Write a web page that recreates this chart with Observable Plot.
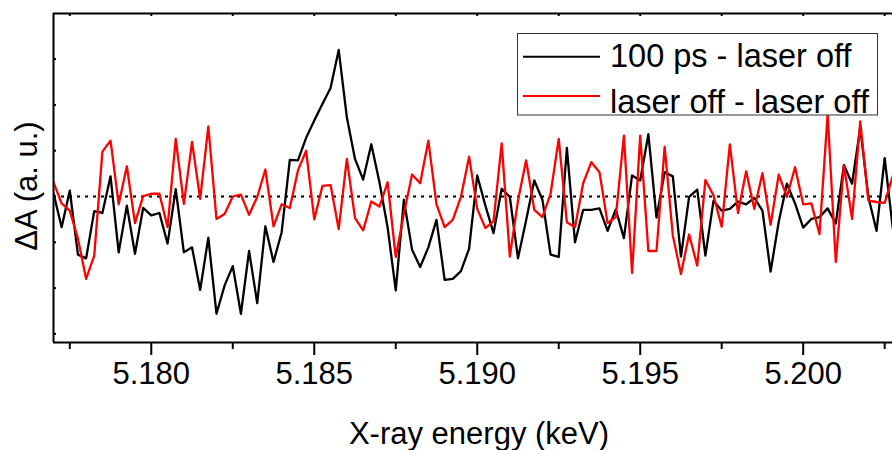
<!DOCTYPE html>
<html><head><meta charset="utf-8">
<script src="https://cdn.jsdelivr.net/npm/d3@7"></script>
<script src="https://cdn.jsdelivr.net/npm/@observablehq/plot@0.6"></script>
<style>
html,body{margin:0;padding:0;background:#fff;overflow:hidden;}
#wrap{position:relative;width:892px;height:450px;font-family:"Liberation Sans",Arial,sans-serif;}
#legend{position:absolute;left:0;top:0;pointer-events:none;}
</style></head>
<body><div id="wrap"></div>
<script>
// X-ray energy grid (keV)
const energy = [
5.17700,5.17725,5.17750,5.17775, 5.17800,5.17825,5.17850,5.17875,
5.17900,5.17925,5.17950,5.17975, 5.18000,5.18025,5.18050,5.18075,
5.18100,5.18125,5.18150,5.18175, 5.18200,5.18225,5.18250,5.18275,
5.18300,5.18325,5.18350,5.18375, 5.18400,5.18425,5.18450,5.18475,
5.18500,5.18525,5.18550,5.18575, 5.18600,5.18625,5.18650,5.18675,
5.18700,5.18725,5.18750,5.18775, 5.18800,5.18825,5.18850,5.18875,
5.18900,5.18925,5.18950,5.18975, 5.19000,5.19025,5.19050,5.19075,
5.19100,5.19125,5.19150,5.19175, 5.19200,5.19225,5.19250,5.19275,
5.19300,5.19325,5.19350,5.19375, 5.19400,5.19425,5.19450,5.19475,
5.19500,5.19525,5.19550,5.19575, 5.19600,5.19625,5.19650,5.19675,
5.19700,5.19725,5.19750,5.19775, 5.19800,5.19825,5.19850,5.19875,
5.19900,5.19925,5.19950,5.19975, 5.20000,5.20025,5.20050,5.20075,
5.20100,5.20125,5.20150,5.20175, 5.20200,5.20225,5.20250,5.20275
];
// 100 ps - laser off (a. u.)
const pumpMinusOff = [
0.07,-0.67,0.13,-1.27,-1.35,-0.32,-0.36,0.44,-1.22,-0.20,
-1.25,-0.25,-0.41,-0.36,-1.03,0.16,-1.22,-1.11,-2.04,-0.90,
-2.56,-1.94,-1.52,-2.56,-1.19,-2.33,-0.65,-1.43,-0.78,0.80,
0.79,1.28,1.66,2.02,2.37,3.20,1.73,0.82,0.37,1.14,
0.31,-0.67,-2.05,-0.07,-1.16,-1.54,-1.11,-0.51,-1.82,-1.80,
-1.63,-1.14,0.46,-0.20,-0.80,0.17,-0.01,-1.35,-0.52,0.35,
-0.07,-1.27,-1.32,1.06,-1.00,-0.29,-0.29,-0.26,-0.75,-0.28,
-0.91,0.46,0.35,1.36,-0.46,0.53,0.44,-1.31,-0.01,0.15,
-1.29,-0.09,-0.31,-0.27,-0.11,-0.17,-0.03,-0.31,-1.64,-0.55,
0.28,-0.15,-0.68,-0.49,-0.45,-0.26,-0.59,0.69,0.28,1.50,
-0.01,-0.75,0.84,-0.70
];
// laser off - laser off (a. u.)
const offMinusOff = [
0.31,-0.15,-0.31,-0.92,-1.80,-1.29,0.98,1.22,-0.17,0.66,
-0.58,0.01,0.06,0.06,-0.67,1.26,-0.16,1.19,-0.05,1.53,
-0.49,-0.38,0.00,0.04,-0.40,-0.01,0.59,-0.65,-0.17,-0.25,
0.57,1.00,-0.50,0.23,0.25,-0.71,0.82,-0.47,-0.74,-0.11,
-0.22,0.31,-1.32,-0.38,0.48,0.29,1.22,-0.17,-0.67,-0.51,
-0.01,0.87,-0.27,-0.69,-0.54,1.16,-1.31,-0.09,0.79,-0.29,
-0.45,0.06,1.26,-0.56,-0.67,0.29,0.75,0.53,-0.58,-0.45,
1.33,-1.67,1.33,-1.19,-1.19,1.09,-0.85,-1.69,-0.83,-1.51,
0.36,0.02,-0.66,1.14,-0.36,0.55,-0.27,0.51,-0.62,0.48,
-0.01,0.64,-0.17,-0.15,-0.82,1.80,-1.43,0.68,-0.49,1.64,
-0.09,-0.12,-0.14,0.45
];
const seriesNames = ["100 ps - laser off", "laser off - laser off"];
const seriesColors = ["#000000", "#ff0000"];
const majorTicks = [5.180, 5.185, 5.190, 5.195, 5.200];
const minorTicks = [5.1775, 5.1825, 5.1875, 5.1925, 5.1975, 5.2025];
const yTicks = [-3, -2, -1, 0, 1, 2, 3];
const xLabel = "X-ray energy (keV)";
const yLabel = "ΔA (a. u.)";
const xDomain = [5.177, 5.20274];
const yDomain = [-3.188, 3.996];

const seriesA = energy.map((e, i) => ({e, v: pumpMinusOff[i]}));
const seriesB = energy.map((e, i) => ({e, v: offMinusOff[i]}));
const allTicks = majorTicks.concat(minorTicks);

const chart = Plot.plot({
  width: 892,
  height: 450,
  marginLeft: 53,
  marginRight: 0,
  marginTop: 13,
  marginBottom: 108,
  style: {fontSize: "31px", fontFamily: "'Liberation Sans', Arial, sans-serif", color: "#000", background: "#fff"},
  x: {domain: xDomain, ticks: majorTicks, tickFormat: d3.format(".3f"), tickSize: 0, tickPadding: 19, label: null},
  y: {domain: yDomain, axis: null},
  marks: [
    Plot.ruleY([0], {stroke: "#000", strokeWidth: 2, strokeDasharray: "3,5"}),
    Plot.line(seriesA, {x: "e", y: "v", stroke: seriesColors[0], strokeWidth: 2.3, clip: true}),
    Plot.line(seriesB, {x: "e", y: "v", stroke: seriesColors[1], strokeWidth: 2.3, clip: true}),
    // frame (left, top, bottom)
    Plot.ruleX([xDomain[0]], {stroke: "#000", strokeWidth: 2}),
    Plot.ruleY([yDomain[0], yDomain[1]], {stroke: "#000", strokeWidth: 2}),
    // bottom ticks (outward)
    Plot.ruleX(majorTicks, {x: d => d, y1: yDomain[0], y2: yDomain[0], insetBottom: -13, stroke: "#000", strokeWidth: 2}),
    Plot.ruleX(minorTicks, {x: d => d, y1: yDomain[0], y2: yDomain[0], insetBottom: -7, stroke: "#000", strokeWidth: 2}),
    // top ticks (inward)
    Plot.ruleX(allTicks, {x: d => d, y1: yDomain[1], y2: yDomain[1], insetBottom: -3, stroke: "#000", strokeWidth: 2}),
    // left ticks (inward)
    Plot.ruleY(yTicks, {y: d => d, x1: xDomain[0], x2: xDomain[0], insetRight: -3, stroke: "#000", strokeWidth: 2}),
    Plot.text([xLabel], {text: d => d, frameAnchor: "bottom", textAnchor: "middle", lineAnchor: "top", dx: 6, dy: 79, fontSize: 31, fill: "#000"}),
    Plot.text([yLabel], {text: d => d, frameAnchor: "left", textAnchor: "middle", lineAnchor: "middle", rotate: -90, dx: -26, dy: 8, fontSize: 31, fill: "#000"})
  ]
});
const wrap = document.getElementById("wrap");
wrap.appendChild(chart);

// legend overlay
const ns = "http://www.w3.org/2000/svg";
const lg = document.createElementNS(ns, "svg");
lg.setAttribute("id", "legend");
lg.setAttribute("width", 892);
lg.setAttribute("height", 450);
const box = document.createElementNS(ns, "rect");
box.setAttribute("x", 517.5); box.setAttribute("y", 33.5);
box.setAttribute("width", 360); box.setAttribute("height", 81.5);
box.setAttribute("fill", "#fff"); box.setAttribute("stroke", "#333"); box.setAttribute("stroke-width", 1);
lg.appendChild(box);
const lineY = [56.7, 96];
const textY = [66.5, 112.5];
seriesNames.forEach((name, i) => {
  const l = document.createElementNS(ns, "line");
  l.setAttribute("x1", 523); l.setAttribute("x2", 600);
  l.setAttribute("y1", lineY[i]); l.setAttribute("y2", lineY[i]);
  l.setAttribute("stroke", seriesColors[i]); l.setAttribute("stroke-width", 2);
  lg.appendChild(l);
  const t = document.createElementNS(ns, "text");
  t.setAttribute("x", 610); t.setAttribute("y", textY[i]);
  t.setAttribute("font-size", "32.5px");
  t.setAttribute("font-family", "'Liberation Sans', Arial, sans-serif");
  t.setAttribute("fill", "#000");
  t.textContent = name;
  lg.appendChild(t);
});
wrap.appendChild(lg);
</script>
</body></html>
